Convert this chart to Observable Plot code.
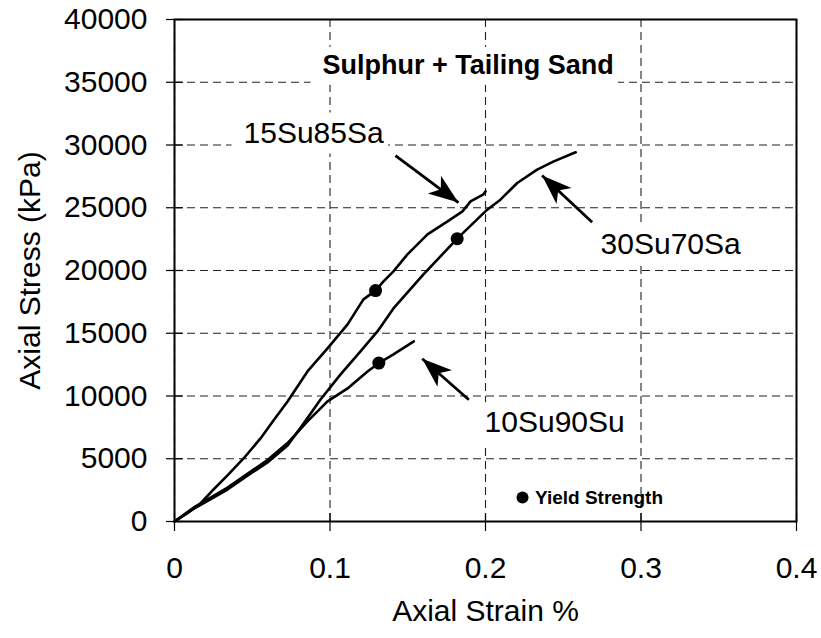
<!DOCTYPE html>
<html><head><meta charset="utf-8">
<script src="https://cdn.jsdelivr.net/npm/d3@7"></script>
<script src="https://cdn.jsdelivr.net/npm/@observablehq/plot@0.6"></script>
<style>body{margin:0;background:#fff}</style>
</head><body><div id="chart"></div>
<script>
// ---- data ----
const xTicks = [0, 0.1, 0.2, 0.3, 0.4];
const yTicks = [0, 5000, 10000, 15000, 20000, 25000, 30000, 35000, 40000];

const seriesNames = ["15Su85Sa", "30Su70Sa", "10Su90Su"];

const strain15 = [0, 0.008, 0.0167, 0.0251, 0.035, 0.0444, 0.0553, 0.064, 0.0727, 0.0855, 0.0984, 0.1113, 0.1215, 0.1293, 0.1344, 0.1408, 0.1498, 0.1627, 0.1756, 0.1852, 0.1904, 0.1987, 0.2];
const stress15 = [0, 650, 1435, 2551, 3800, 5022, 6617, 8100, 9566, 11958, 13792, 15705, 17698, 18400, 19133, 19930, 21285, 22879, 23916, 24713, 25510, 26068, 26300];

const strain30 = [0, 0.0122, 0.0341, 0.0469, 0.0598, 0.0727, 0.083, 0.0939, 0.1068, 0.1196, 0.1305, 0.1408, 0.1601, 0.1818, 0.2011, 0.2096, 0.2204, 0.2332, 0.2439, 0.2568, 0.258];
const stress30 = [0, 1000, 2550, 3650, 4700, 6050, 7800, 9726, 11719, 13552, 15146, 16980, 19691, 22536, 24846, 25643, 26970, 28032, 28699, 29360, 29420];

const strain10 = [0, 0.0122, 0.0341, 0.0469, 0.0598, 0.0727, 0.0855, 0.0984, 0.1113, 0.1241, 0.1314, 0.1408, 0.1539];
const stress10 = [0, 1100, 2700, 3800, 4900, 6250, 7972, 9566, 10603, 11958, 12620, 13313, 14349];

const yieldStrain = [0.1293, 0.1818, 0.1314];
const yieldStress = [18400, 22536, 12620];

// annotation anchors (data units)
const labelStrain = [0.0444, 0.274, 0.1994];
const labelStress = [30964, 22096, 7880];
const arrowTailStrain = [0.1421, 0.2686, 0.1893];
const arrowTailStress = [29163, 23849, 9697];
const arrowHeadStrain = [0.1826, 0.2364, 0.1593];
const arrowHeadStress = [25418, 27570, 12964];

const titleText = "Sulphur + Tailing Sand";
const titleStrain = 0.0952, titleStress = 36360;
const legendText = "Yield Strength";
const legendDotStrain = 0.2238, legendTextStrain = 0.2318, legendStress = 1912;
const xLabel = "Axial Strain %";
const yLabel = "Axial Stress (kPa)";

// ---- layout ----
const W = 821, H = 638, ML = 174, MR = 25, MT = 19, MB = 117;
const xDomain = [0, 0.4], yDomain = [0, 40000];
const px = s => ML + (s - xDomain[0]) / (xDomain[1] - xDomain[0]) * (W - ML - MR);
const py = v => H - MB - (v - yDomain[0]) / (yDomain[1] - yDomain[0]) * (H - MT - MB);

const curves = [
  ...strain15.map((s, i) => ({series: seriesNames[0], strain: s, stress: stress15[i]})),
  ...strain30.map((s, i) => ({series: seriesNames[1], strain: s, stress: stress30[i]})),
  ...strain10.map((s, i) => ({series: seriesNames[2], strain: s, stress: stress10[i]}))
];
const yields = yieldStrain.map((s, i) => ({strain: s, stress: yieldStress[i]}));
const labels = seriesNames.map((n, i) => ({text: n, strain: labelStrain[i], stress: labelStress[i]}));
const arrows = seriesNames.map((n, i) => {
  const dx = px(arrowHeadStrain[i]) - px(arrowTailStrain[i]);
  const dy = py(arrowHeadStress[i]) - py(arrowTailStress[i]);
  return {
    x1: arrowTailStrain[i], y1: arrowTailStress[i],
    x2: arrowHeadStrain[i], y2: arrowHeadStress[i],
    angle: Math.atan2(dx, -dy) * 180 / Math.PI
  };
});

const headSymbol = {
  draw(ctx) {
    ctx.moveTo(0, 0);
    ctx.lineTo(-11, 30);
    ctx.lineTo(0, 22);
    ctx.lineTo(11, 30);
    ctx.closePath();
  }
};

const font = "'Liberation Sans', Arial, Helvetica, sans-serif";

const chart = Plot.plot({
  width: W, height: H,
  marginLeft: ML, marginRight: MR, marginTop: MT, marginBottom: MB,
  style: {fontFamily: font, fontSize: "30px", color: "black", background: "white", overflow: "visible"},
  x: {domain: xDomain, label: null},
  y: {domain: yDomain, label: null},
  marks: [
    Plot.gridX({ticks: xTicks, stroke: "#222", strokeOpacity: 1, strokeWidth: 1.1, strokeDasharray: "8,5"}),
    Plot.gridY({ticks: yTicks, stroke: "#222", strokeOpacity: 1, strokeWidth: 1.1, strokeDasharray: "8,5"}),
    Plot.tickY(yTicks, {y: d => d, stroke: "black", strokeWidth: 1.2, insetRight: W - ML - MR - 9}),
    Plot.tickX(xTicks, {x: d => d, stroke: "black", strokeWidth: 1.2, insetTop: H - MT - MB - 8}),
    Plot.axisY({ticks: yTicks, tickFormat: d => String(d), tickSize: 8, tickPadding: 19, fontSize: 30, label: null, strokeWidth: 1.2}),
    Plot.axisX({ticks: xTicks, tickFormat: d => String(d), tickSize: 10, tickPadding: 25, fontSize: 30, label: null, strokeWidth: 1.2}),
    Plot.frame({stroke: "black", strokeWidth: 2}),
    Plot.line(curves, {x: "strain", y: "stress", z: "series", stroke: "black", strokeWidth: 2.6, strokeLinejoin: "round"}),
    Plot.dot(yields, {x: "strain", y: "stress", r: 6.5, fill: "black", stroke: "none"}),
    Plot.link(arrows, {x1: "x1", y1: "y1", x2: "x2", y2: "y2", stroke: "black", strokeWidth: 2.8}),
    Plot.dot(arrows, {x: "x2", y: "y2", symbol: headSymbol, rotate: "angle", fill: "black", stroke: "none"}),
    Plot.text(labels, {x: "strain", y: "stress", text: "text", textAnchor: "start", fontSize: 30, className: "boxed"}),
    Plot.text([titleText], {x: () => titleStrain, y: () => titleStress, text: d => d, textAnchor: "start", fontSize: 27, fontWeight: "bold", className: "boxed"}),
    Plot.dot([legendText], {x: () => legendDotStrain, y: () => legendStress, r: 6, fill: "black", stroke: "none"}),
    Plot.text([legendText], {x: () => legendTextStrain, y: () => legendStress, text: d => d, textAnchor: "start", fontSize: 19, fontWeight: "bold"}),
    Plot.text([xLabel], {frameAnchor: "bottom", textAnchor: "middle", dy: 99, text: d => d, fontSize: 30}),
    Plot.text([yLabel], {frameAnchor: "left", textAnchor: "middle", dx: -144, rotate: -90, text: d => d, fontSize: 30})
  ]
});
document.getElementById("chart").appendChild(chart);

// opaque white boxes behind annotation text (like the original text boxes)
chart.querySelectorAll("g.boxed text").forEach(t => {
  const b = t.getBBox();
  const tr = t.getAttribute("transform");
  const r = document.createElementNS("http://www.w3.org/2000/svg", "rect");
  r.setAttribute("x", b.x - 12); r.setAttribute("y", b.y - 3);
  r.setAttribute("width", b.width + 16); r.setAttribute("height", b.height + 8);
  r.setAttribute("fill", "white");
  if (tr) r.setAttribute("transform", tr);
  t.parentNode.insertBefore(r, t);
});
</script>
</body></html>
